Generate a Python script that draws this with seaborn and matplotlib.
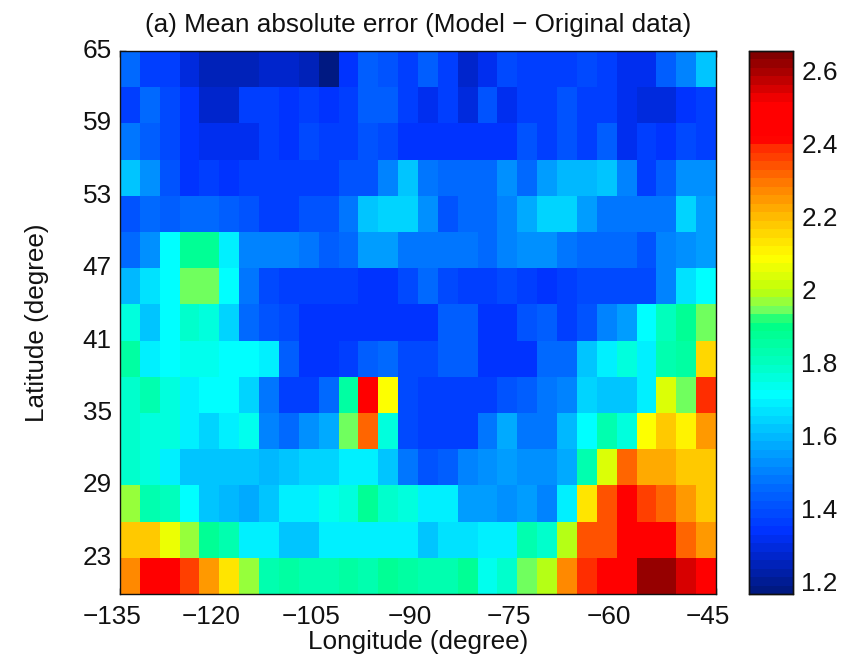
import numpy as np
import pandas as pd
import seaborn as sns
import matplotlib
matplotlib.use("Agg")
import matplotlib.pyplot as plt
from matplotlib.colors import LinearSegmentedColormap
from matplotlib.transforms import ScaledTranslation

sns.set_theme(style="white")
plt.rcParams['font.family'] = ['Liberation Sans', 'DejaVu Sans']

r00 = [1.45,1.36,1.36,1.30,1.24,1.24,1.24,1.26,1.27,1.25,1.18,1.35,1.44,1.40,1.36,1.44,1.36,1.26,1.31,1.38,1.36,1.36,1.36,1.39,1.36,1.31,1.31,1.43,1.50,1.63]
r01 = [1.36,1.46,1.39,1.34,1.27,1.27,1.36,1.36,1.35,1.37,1.35,1.37,1.44,1.44,1.36,1.31,1.36,1.29,1.41,1.31,1.36,1.36,1.40,1.36,1.36,1.32,1.30,1.30,1.35,1.36]
r02 = [1.48,1.43,1.39,1.35,1.32,1.31,1.31,1.36,1.35,1.38,1.36,1.36,1.42,1.39,1.35,1.34,1.34,1.34,1.33,1.34,1.42,1.37,1.42,1.37,1.44,1.32,1.36,1.33,1.38,1.36]
r03 = [1.63,1.52,1.41,1.35,1.37,1.35,1.36,1.36,1.37,1.36,1.36,1.41,1.41,1.50,1.62,1.47,1.46,1.46,1.45,1.52,1.46,1.54,1.60,1.60,1.62,1.50,1.36,1.44,1.53,1.53]
r04 = [1.41,1.45,1.43,1.46,1.46,1.43,1.42,1.37,1.37,1.42,1.42,1.47,1.62,1.65,1.65,1.53,1.41,1.45,1.45,1.50,1.58,1.65,1.65,1.56,1.49,1.49,1.49,1.49,1.65,1.56]
r05 = [1.45,1.52,1.71,1.88,1.88,1.69,1.50,1.50,1.50,1.47,1.43,1.46,1.55,1.55,1.47,1.48,1.49,1.49,1.46,1.50,1.53,1.53,1.47,1.46,1.46,1.46,1.40,1.50,1.52,1.54]
r06 = [1.60,1.66,1.71,1.95,1.95,1.71,1.47,1.39,1.37,1.36,1.36,1.36,1.35,1.35,1.38,1.45,1.39,1.37,1.36,1.39,1.37,1.33,1.37,1.39,1.39,1.39,1.39,1.50,1.67,1.71]
r07 = [1.77,1.63,1.71,1.78,1.76,1.65,1.46,1.42,1.38,1.34,1.33,1.33,1.34,1.34,1.34,1.34,1.44,1.43,1.34,1.34,1.41,1.44,1.36,1.41,1.50,1.56,1.71,1.80,1.88,1.95]
r08 = [1.86,1.70,1.71,1.74,1.73,1.71,1.72,1.70,1.44,1.33,1.34,1.36,1.44,1.46,1.38,1.38,1.43,1.44,1.34,1.35,1.35,1.45,1.45,1.62,1.68,1.76,1.70,1.82,1.85,2.15]
r09 = [1.78,1.83,1.76,1.70,1.72,1.72,1.65,1.47,1.37,1.37,1.46,1.85,2.45,2.08,1.38,1.37,1.36,1.36,1.36,1.42,1.43,1.47,1.50,1.65,1.62,1.62,1.68,2.03,1.94,2.38]
r10 = [1.79,1.76,1.75,1.70,1.65,1.70,1.73,1.50,1.45,1.52,1.58,1.95,2.32,1.76,1.39,1.36,1.36,1.36,1.48,1.58,1.49,1.49,1.60,1.71,1.84,1.76,2.08,2.18,2.10,2.25]
r11 = [1.78,1.75,1.70,1.63,1.63,1.63,1.63,1.60,1.63,1.65,1.65,1.68,1.68,1.63,1.48,1.42,1.44,1.50,1.52,1.54,1.52,1.53,1.58,1.82,2.03,2.32,2.22,2.22,2.18,2.18]
r12 = [1.97,1.82,1.80,1.72,1.63,1.60,1.57,1.61,1.68,1.70,1.74,1.76,1.87,1.78,1.76,1.70,1.70,1.56,1.55,1.53,1.56,1.50,1.70,2.13,2.35,2.45,2.36,2.31,2.24,2.17]
r13 = [2.17,2.17,2.07,1.97,1.88,1.82,1.70,1.68,1.62,1.62,1.68,1.70,1.70,1.70,1.70,1.63,1.66,1.66,1.70,1.68,1.82,1.78,2.00,2.35,2.35,2.45,2.45,2.45,2.31,2.24]
r14 = [2.27,2.45,2.45,2.37,2.25,2.13,1.98,1.84,1.85,1.84,1.84,1.85,1.84,1.87,1.85,1.84,1.84,1.87,1.74,1.78,1.95,2.00,2.27,2.38,2.45,2.45,2.61,2.61,2.56,2.48]
rows = [r00,r01,r02,r03,r04,r05,r06,r07,r08,r09,r10,r11,r12,r13,r14]

lon_edges = list(range(-135, -45, 3))
lat_edges = list(range(62, 17, -3))
lon_ticks = [-135,-120,-105,-90,-75,-60,-45]
lat_ticks = [23,29,35,41,47,53,59,65]
cb_ticks = [1.2,1.4,1.6,1.8,2.0,2.2,2.4,2.6]
cb_labels = ['1.2','1.4','1.6','1.8','2','2.2','2.4','2.6']
vmin, vmax = 1.167, 2.654

anchors = [(1.167,(0,25,130)),(1.25,(0,35,195)),(1.33,(0,50,255)),(1.45,(0,105,255)),
           (1.55,(0,160,255)),(1.62,(0,200,255)),(1.71,(0,255,255)),(1.80,(0,255,190)),
           (1.91,(0,255,130)),(1.95,(125,255,90)),(2.0,(190,255,10)),(2.09,(255,255,0)),
           (2.2,(255,190,0)),(2.3,(255,120,0)),(2.4,(255,40,0)),(2.42,(255,0,0)),
           (2.52,(255,0,0)),(2.6,(175,0,0)),(2.654,(130,0,0))]
cmap = LinearSegmentedColormap.from_list(
    "custom_jet",
    [((v-vmin)/(vmax-vmin), tuple(c/255 for c in col)) for v, col in anchors],
    N=64)

W, H = 849, 658
fig = plt.figure(figsize=(W/100, H/100), dpi=100)
ax = fig.add_axes([120/W, 1-594/H, (716-120)/W, (594-51)/H])
cax = fig.add_axes([749/W, 1-594/H, (793-749)/W, (594-51)/H])

df = pd.DataFrame(rows, index=lat_edges, columns=lon_edges)
sns.heatmap(df, ax=ax, cmap=cmap, vmin=vmin, vmax=vmax, cbar_ax=cax,
            linewidths=0, rasterized=True)

FS = 18.8
INK = '#111111'
ax.set_xticks([(v-lon_ticks[0])/3 for v in lon_ticks])
ax.set_xticklabels([str(v).replace('-', '\u2212') for v in lon_ticks], rotation=0, fontsize=FS, color=INK)
ax.set_yticks([(65-v)/3 for v in lat_ticks])
ax.set_yticklabels([str(v) for v in lat_ticks], rotation=0, fontsize=FS, color=INK)
ax.tick_params(axis='x', direction='in', length=4, width=1, color=INK,
               top=True, bottom=True, pad=8)
ax.tick_params(axis='y', direction='in', length=4, width=1, color=INK,
               left=True, right=True, pad=6)
shift = ScaledTranslation(-8/100, 0, fig.dpi_scale_trans)
for lab in ax.get_xticklabels():
    lab.set_transform(lab.get_transform() + shift)
for s in ax.spines.values():
    s.set_visible(True); s.set_color(INK); s.set_linewidth(1)
ax.set_xlabel('Longitude (degree)', fontsize=FS, color=INK, labelpad=1)
ax.set_ylabel('Latitude (degree)', fontsize=FS, color=INK, labelpad=24)
ax.set_title('(a) Mean absolute error (Model \u2212 Original data)', fontsize=FS, color=INK, pad=14)

cax.set_yticks(cb_ticks)
cax.set_yticklabels(cb_labels, fontsize=FS, color=INK)
cax.tick_params(axis='y', direction='in', length=5, width=1, color=INK, left=True, right=True, pad=6)
for s in cax.spines.values():
    s.set_visible(True); s.set_color(INK); s.set_linewidth(1)

fig.savefig('out.png', dpi=100, facecolor='white')
